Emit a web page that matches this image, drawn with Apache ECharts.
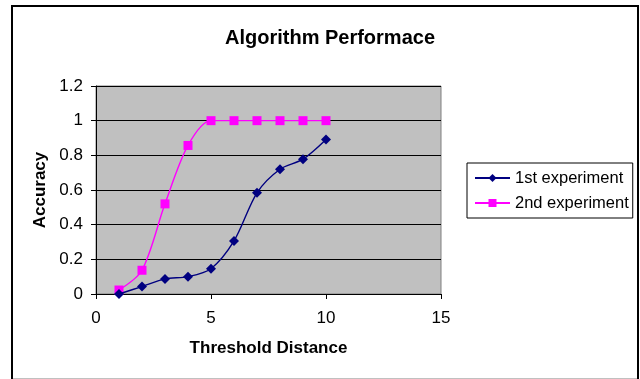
<!DOCTYPE html>
<html>
<head>
<meta charset="utf-8">
<script src="https://cdn.jsdelivr.net/npm/echarts@6/dist/echarts.min.js"></script>
<style>
  html, body { margin: 0; padding: 0; background: #fff; }
  #chart { width: 640px; height: 379px; }
</style>
</head>
<body>
<div id="chart"></div>
<script>
// 数据
var threshold = [1, 2, 3, 4, 5, 6, 7, 8, 9, 10];
var firstExp = [0, 0.043, 0.087, 0.10, 0.146, 0.306, 0.584, 0.72, 0.778, 0.892];
var secondExp = [0.023, 0.137, 0.52, 0.857, 1, 1, 1, 1, 1, 1];

function pairs(xs, ys) {
	var out = [];
	for (var i = 0; i < xs.length; i++) {
		out.push([xs[i], ys[i]]);
	}
	return out;
}

var font = '"Liberation Sans", Arial, sans-serif';
var chart = echarts.init(document.getElementById('chart'));

var option = {
	animation: false,
	backgroundColor: '#fff',
	textStyle: { fontFamily: font },
	title: {
		text: 'Algorithm Performace',
		left: 325,
		top: 23,
		textAlign: 'center',
		textStyle: { fontSize: 20, fontWeight: 'bold', color: '#000', fontFamily: font }
	},
	graphic: [{
		type: 'rect',
		shape: { x: 12, y: 6, width: 626, height: 390 },
		style: { fill: null, stroke: '#000', lineWidth: 2 },
		silent: true
	}, {
		type: 'line',
		shape: { x1: 13, y1: 378.5, x2: 637, y2: 378.5 },
		style: { stroke: '#c0c0c0', lineWidth: 1 },
		silent: true
	}],
	legend: {
		orient: 'vertical',
		left: 467,
		top: 163,
		padding: [6.5, 4, 6.5, 7],
		itemWidth: 35,
		itemHeight: 10,
		itemGap: 8,
		borderColor: '#000',
		borderWidth: 1,
		textStyle: { fontSize: 16.5, color: '#000', fontFamily: font },
		data: ['1st experiment', '2nd experiment']
	},
	grid: {
		left: 96,
		right: 199,
		top: 86,
		bottom: 85,
		show: true,
		backgroundColor: '#c0c0c0',
		borderColor: '#808080',
		borderWidth: 1
	},
	xAxis: {
		type: 'value',
		min: 0,
		max: 15,
		interval: 5,
		name: 'Threshold Distance',
		nameLocation: 'middle',
		nameGap: 46,
		nameTextStyle: { fontSize: 17, fontWeight: 'bold', color: '#000', fontFamily: font },
		axisLine: { show: true, onZero: false, lineStyle: { color: '#000' } },
		axisTick: { show: true, length: 5, lineStyle: { color: '#000' } },
		axisLabel: { fontSize: 17, color: '#000', margin: 16, fontFamily: font },
		splitLine: { show: false }
	},
	yAxis: {
		type: 'value',
		min: 0,
		max: 1.2,
		interval: 0.2,
		name: 'Accuracy',
		nameLocation: 'middle',
		nameGap: 47,
		nameRotate: 90,
		nameTextStyle: { fontSize: 17, fontWeight: 'bold', color: '#000', fontFamily: font },
		axisLine: { show: true, lineStyle: { color: '#000' } },
		axisTick: { show: true, length: 5, lineStyle: { color: '#000' } },
		axisLabel: { fontSize: 17, color: '#000', margin: 13, fontFamily: font },
		splitLine: { show: true, lineStyle: { color: '#000', width: 1 } }
	},
	series: [
		{
			name: '1st experiment',
			type: 'line',
			data: pairs(threshold, firstExp),
			smooth: 0.3,
			symbol: 'diamond',
			symbolSize: 10,
			lineStyle: { color: '#000080', width: 1.4 },
			itemStyle: { color: '#000080' },
			z: 3
		},
		{
			name: '2nd experiment',
			type: 'line',
			data: pairs(threshold, secondExp),
			smooth: 0.3,
			symbol: 'rect',
			symbolSize: 9,
			lineStyle: { color: '#ff00ff', width: 1.4 },
			itemStyle: { color: '#ff00ff' },
			z: 2
		}
	]
};

chart.setOption(option);

window.onresize = function(){
	chart.resize();
}
</script>
</body>
</html>
